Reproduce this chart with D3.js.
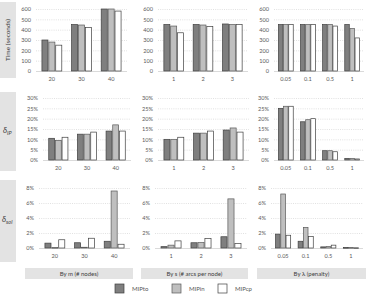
<!DOCTYPE html>
<html><head><meta charset="utf-8">
<script src="https://cdn.jsdelivr.net/npm/d3@7"></script>
<style>body{margin:0;background:#fff}svg{display:block}</style>
</head><body>
<svg id="c" width="367" height="301"></svg>
<script>
const series = ["MIPto","MIPin","MIPcp"];
const catM = ["20","30","40"];
const catS = ["1","2","3"];
const catL = ["0.05","0.1","0.5","1"];
const groupTitles = ["By m (# nodes)","By s (# arcs per node)","By \u03bb (penalty)"];
const timeTicks = [0,100,200,300,400,500,600];
const ipTicks = [0,5,10,15,20,25,30];
const solTicks = [0,2,4,6,8];
// Time (seconds) [MIPto, MIPin, MIPcp]
const timeM = [[300,280,250],[450,445,420],[600,600,580]];
const timeS = [[450,435,370],[450,445,430],[455,450,450]];
const timeL = [[450,450,450],[450,450,450],[450,450,435],[450,410,320]];
// delta IP (%)
const ipM = [[10.5,9.5,11],[12.5,12.5,13.5],[14,17,14]];
const ipS = [[10,10,11],[13,13,14],[14.5,15.5,13.5]];
const ipL = [[25,26,26],[18.5,19.5,20],[4.5,4.5,4],[0.8,0.8,0.5]];
// delta sol (%)
const solM = [[0.65,0.05,1.1],[0.7,0.1,1.3],[0.9,7.6,0.5]];
const solS = [[0.18,0.38,0.95],[0.7,0.72,1.28],[1.5,6.55,0.6]];
const solL = [[1.85,7.2,1.7],[0.9,2.75,1.55],[0.15,0.2,0.38],[0.05,0.05,0.03]];

const svg = d3.select("#c");
const font = "Lato, 'Open Sans', sans-serif";
const fills = {MIPto:"#7f7f7f", MIPin:"#bfbfbf", MIPcp:"#ffffff"};
const strokes = {MIPto:"#3f3f3f", MIPin:"#595959", MIPcp:"#3f3f3f"};
const boxFill = "#e3e3e3";

const rows = [
  {ticks:timeTicks, max:600, y0:71, y1:9, fmt:d=>d, data:[timeM,timeS,timeL],
   xr:[[36,127],[158,248],[274,364]], box:[2,78]},
  {ticks:ipTicks, max:30, y0:160, y1:98, fmt:d=>d+"%", data:[ipM,ipS,ipL],
   xr:[[43,131],[158,249],[274,364]], box:[92,171]},
  {ticks:solTicks, max:8, y0:248, y1:188, fmt:d=>d+"%", data:[solM,solS,solL],
   xr:[[39,130],[155,247],[271,363]], box:[180,262]}
];
const cats = [catM, catS, catL];

rows.forEach((r, ri) => {
  svg.append("rect").attr("x",0).attr("y",r.box[0]).attr("width",16)
    .attr("height",r.box[1]-r.box[0]).attr("fill",boxFill);
  const y = d3.scaleLinear().domain([0,r.max]).range([r.y0,r.y1]);
  r.data.forEach((d, ci) => {
    const xr = r.xr[ci];
    const x = d3.scaleBand().domain(cats[ci]).range(xr).paddingInner(0.33).paddingOuter(0.2);
    const xs = d3.scaleBand().domain(series).range([0,x.bandwidth()]).paddingInner(0.12);
    const g = svg.append("g");
    // grid
    g.selectAll("line.grid").data(r.ticks.filter(t=>t>0)).join("line")
      .attr("x1",xr[0]).attr("x2",xr[1]).attr("y1",t=>y(t)+0.5).attr("y2",t=>y(t)+0.5)
      .attr("stroke","#d4d4d4").attr("stroke-width",0.7).attr("stroke-dasharray","1,1.2");
    g.append("line").attr("x1",xr[0]).attr("x2",xr[1]).attr("y1",y(0)+0.5).attr("y2",y(0)+0.5)
      .attr("stroke","#d0d0d0").attr("stroke-width",0.8);
    // y labels
    const ya = d3.axisLeft(y).tickValues(r.ticks).tickFormat(r.fmt).tickSize(0).tickPadding(0);
    const ag = g.append("g").attr("transform",`translate(${xr[0]-5},0)`).call(ya);
    ag.select(".domain").remove();
    ag.selectAll("text").attr("font-family",font).attr("font-size",5.6).attr("fill","#595959");
    // x labels
    const xa = d3.axisBottom(x).tickSize(0).tickPadding(0);
    const xg = g.append("g").attr("transform",`translate(0,${r.y0+6})`).call(xa);
    xg.select(".domain").remove();
    xg.selectAll("text").attr("font-family",font).attr("font-size",5.6).attr("fill","#595959");
    // bars
    cats[ci].forEach((c, k) => {
      series.forEach((s, si) => {
        const v = d[k][si];
        g.append("rect")
          .attr("x", x(c)+xs(s)).attr("width", xs.bandwidth())
          .attr("y", y(v)).attr("height", Math.max(0.6, y(0)-y(v)))
          .attr("fill", fills[s]).attr("stroke", strokes[s]).attr("stroke-width",0.7);
      });
    });
  });
});

// row titles
svg.append("text").attr("transform","translate(10,40) rotate(-90)").attr("text-anchor","middle")
  .attr("font-family",font).attr("font-size",6.5).attr("fill","#404040").text("Time (seconds)");
function delta(xp, yp, sub){
  const t = svg.append("text").attr("x",xp).attr("y",yp).attr("font-family",font)
    .attr("font-size",8).attr("fill","#404040").attr("font-style","italic");
  t.append("tspan").text("\u03b4");
  t.append("tspan").attr("font-size",5.5).attr("dy",1.5).text(sub);
}
delta(3,133,"IP");
delta(2,222,"sol");

// bottom group boxes
const gx = [[25,133],[141,248],[257,366]];
groupTitles.forEach((t,i)=>{
  svg.append("rect").attr("x",gx[i][0]).attr("y",268).attr("width",gx[i][1]-gx[i][0]).attr("height",11).attr("fill",boxFill);
  svg.append("text").attr("x",(gx[i][0]+gx[i][1])/2).attr("y",276).attr("text-anchor","middle")
    .attr("font-family",font).attr("font-size",6).attr("fill","#404040").text(t);
});

// legend
const lx = [115,172,218];
series.forEach((s,i)=>{
  svg.append("rect").attr("x",lx[i]).attr("y",284).attr("width",9).attr("height",9)
    .attr("fill",fills[s]).attr("stroke",strokes[s]).attr("stroke-width",0.7);
  svg.append("text").attr("x",lx[i]+17).attr("y",291).attr("font-family",font)
    .attr("font-size",6).attr("fill","#595959").text(s);
});
</script>
</body></html>
